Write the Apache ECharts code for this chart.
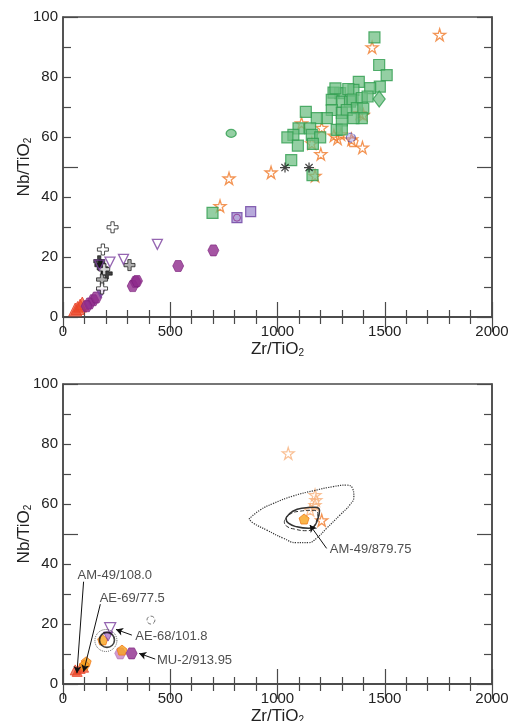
<!DOCTYPE html>
<html>
<head>
<meta charset="utf-8">
<script src="https://cdn.jsdelivr.net/npm/echarts@6/dist/echarts.min.js"></script>
<style>
  html, body { margin: 0; padding: 0; background: #fff; }
  #chart { width: 509px; height: 721px; }
</style>
</head>
<body>
<div id="chart"></div>
<script>
// ---- upper panel data (Zr/TiO2, Nb/TiO2) ----
const greenSquares = [
  [1452, 93.2], [1474, 84], [1509, 80.6], [1477, 76.8], [1379, 78.4], [1432, 76.3],
  [1354, 75.7], [1292, 74.6], [1261, 74.8], [1330, 76], [1270, 76.2], [1253, 72.4],
  [1300, 71.8], [1338, 71.8], [1350, 72.5], [1393, 73], [1420, 73.5], [1253, 69],
  [1300, 68], [1323, 69], [1370, 69.6], [1400, 69.5], [1393, 66.3], [1354, 66.3],
  [1300, 65.5], [1230, 66.3], [1183, 66.3], [1132, 68.4], [1152, 62.9], [1098, 62.9],
  [1074, 60.7], [1046, 59.9], [1095, 57.1], [1160, 60.7], [1199, 59.9], [1165, 57.7],
  [1276, 62.4], [1300, 62.5], [1064, 52.3], [1163, 47.3], [697, 34.7]
];
const greenDiamond = [[1474, 72.7]];
const greenCircle = [[784, 61.2]];
const orangeStars = [
  [1756, 94.1], [1441, 89.9], [1400, 67.4], [1384, 68], [1112, 64.6], [1206, 63.1],
  [1263, 60.5], [1296, 60.9], [1280, 59.5], [1345, 59.2], [1396, 56.5], [1202, 54.3],
  [1160, 57.9], [970, 48.2], [1175, 47.1], [774, 46.2], [732, 37]
];
const blueCircle = [[1342, 59.8]];
const openPentagon = [[1352, 58.5]];
const asterisks = [[1035, 49.8], [1147, 49.8]];
const lavenderSquares = [[875, 35.1], [811, 33.1]];
const lavenderCircle = [[811, 33.1]];
const purpleHex = [[701, 22.2], [537, 17], [338, 11.7], [325, 10.3], [345, 12], [141, 5.6], [124, 4.5], [155, 6.5], [110, 3.6]];
const openTriangles = [[440, 24.2], [282, 19.2], [219, 18.3], [170, 17.3]];
const filledTriangles = [[176, 7.8]];
const blackCrosses = [[169, 18.6], [174, 17.3], [204, 14.5], [185, 16.2]];
const openCrosses = [[231, 29.9], [186, 22.5], [192, 15.9], [182, 9.5]];
const grayCrosses = [[310, 17.3], [182, 12.5]];
const redTriangles = [[57, 2.5], [68, 3], [80, 3.8], [90, 4.5]];

// ---- lower panel data ----
const lightStars = [[1050, 76.9], [1175, 63], [1179, 61.3], [1175, 59.7], [1152, 58]];
const darkStar = [[1206, 54.6]];
const orangePentagons = [[1124, 55], [108, 7.4], [99, 6.3], [185, 14.7], [275, 11.3]];
const redTriangles2 = [[57, 4.7], [80, 5.2], [96, 5.6], [66, 4.2]];
const lightPurpleHex = [[267, 10.2]];
const darkPurpleHex = [[320, 10.2]];
const openTriangles2 = [[220, 18.6]];
const filledTriangles2 = [[210, 15.8]];
const solidRing = [[205, 14.7]];
const dottedRing = [[200, 14.5]];
const dashedCircle = [[410, 21.3]];
const bigDottedLoop = [
  [867, 55], [919, 58], [981, 60.2], [1074, 62.7], [1167, 64.4], [1260, 65.8], [1322, 66.3],
  [1350, 65.2], [1356, 62.4], [1337, 59.7], [1291, 56.3], [1229, 51.9], [1182, 48.6],
  [1144, 47.1], [1089, 47.1], [1027, 48.6], [950, 51.3], [888, 53.6], [867, 55]
];
const solidLoop = [
  [1044, 55.8], [1067, 57.4], [1113, 58.6], [1175, 58.9], [1196, 57.8], [1186, 54.6],
  [1168, 52.4], [1144, 51.9], [1090, 52.4], [1051, 53.6], [1040, 55.2], [1044, 55.8]
];
const dashedLoop = [
  [1036, 54.8], [1058, 56.6], [1104, 57.6], [1166, 57.9], [1188, 56.8], [1178, 53.6],
  [1160, 51.6], [1136, 51.1], [1082, 51.6], [1043, 52.6], [1032, 54.2], [1036, 54.8]
];
const labelNames = ['AM-49/879.75', 'AM-49/108.0', 'AE-69/77.5', 'AE-68/101.8', 'MU-2/913.95'];
const labelPos = [[1244, 44.7], [68, 36.1], [171, 28.4], [337, 15.8], [438, 8]];
const arrowFrom = [[1229, 45.2], [96, 34.1], [174, 26.6], [321, 16.3], [430, 8.3]];
const arrowTo = [[1151, 53], [65, 3.6], [96, 4.1], [247, 18.2], [355, 10.2]];

const FONT = "'Liberation Sans', Arial, sans-serif";
const STAR = 'path://M50,0 L61,35 L98,35 L68,57 L79,91 L50,70 L21,91 L32,57 L2,35 L39,35 Z';
const HEX = 'path://M25,0 L75,0 L100,43 L75,87 L25,87 L0,43 Z';
const PENT = 'path://M50,0 L100,38 L81,95 L19,95 L0,38 Z';
const CROSS = 'path://M35,0 L65,0 L65,35 L100,35 L100,65 L65,65 L65,100 L35,100 L35,65 L0,65 L0,35 L35,35 Z';
const AST = 'path://M0,44 L100,44 L100,56 L0,56 Z M44,0 L56,0 L56,100 L44,100 Z M10,18 L18,10 L90,82 L82,90 Z M82,10 L90,18 L18,90 L10,82 Z';

const axisColor = '#4a4a4a';
const nameRich = { s: { fontSize: 10, fontFamily: FONT, color: '#222', padding: [8, 0, 0, 0] } };

function xAxes(gridIndex) {
  const common = () => ({
    gridIndex, type: 'value', min: 0, max: 2000, interval: 500,
    axisLine: { show: true, lineStyle: { color: axisColor, width: 1.5 } },
    axisTick: { show: true, inside: true, length: 15, lineStyle: { color: axisColor, width: 1.2 } },
    minorTick: { show: true, splitNumber: 5, length: 7, lineStyle: { color: axisColor, width: 1.2 } },
    splitLine: { show: false }
  });
  return [
    Object.assign(common(), {
      position: 'bottom',
      axisLabel: { fontSize: 15, color: '#222', fontFamily: FONT, margin: 7, formatter: v => String(v) },
      name: 'Zr/TiO{s|2}', nameLocation: 'middle', nameGap: 23,
      nameTextStyle: { fontSize: 17, color: '#222', fontFamily: FONT, rich: nameRich }
    }),
    Object.assign(common(), { position: 'top', axisLabel: { show: false } })
  ];
}

function yAxes(gridIndex) {
  const common = () => ({
    gridIndex, type: 'value', min: 0, max: 100, interval: 50,
    axisLine: { show: true, lineStyle: { color: axisColor, width: 1.5 } },
    axisTick: { show: true, inside: true, length: 15, lineStyle: { color: axisColor, width: 1.2 } },
    minorTick: { show: true, splitNumber: 5, length: 8, lineStyle: { color: axisColor, width: 1.2 } },
    splitLine: { show: false },
    axisLabel: { show: false }
  });
  return [
    Object.assign(common(), { position: 'left' }),
    {
      gridIndex, type: 'value', min: 0, max: 100, interval: 20, position: 'left',
      axisLine: { show: false }, axisTick: { show: false }, splitLine: { show: false },
      axisLabel: { fontSize: 15, color: '#222', fontFamily: FONT, margin: 5 },
      name: 'Nb/TiO{s|2}', nameLocation: 'middle', nameGap: 30, nameRotate: 90,
      nameMoveOverlap: false,
      nameTextStyle: { fontSize: 17, color: '#222', fontFamily: FONT, rich: nameRich }
    },
    Object.assign(common(), { position: 'right' })
  ];
}

function sc(name, data, xi, yi, symbol, size, style, extra) {
  return Object.assign({
    name, type: 'scatter', data, xAxisIndex: xi, yAxisIndex: yi,
    symbol, symbolSize: size, itemStyle: style
  }, extra || {});
}

function loop(name, data, type, width) {
  return {
    name, type: 'line', data, xAxisIndex: 2, yAxisIndex: 3, smooth: 0.5,
    showSymbol: false,
    lineStyle: { color: '#333', width, type }
  };
}

const green = { color: 'rgba(110,190,130,0.92)', borderColor: '#2f9e4f', borderWidth: 1.2 };
const orangeOpen = { color: 'rgba(255,255,255,0)', borderColor: '#f07a2a', borderWidth: 1.3 };
const purple = { color: '#8e2a8c', borderColor: '#7a1f7a', borderWidth: 0.8 };
const redTri = { color: 'rgba(236,72,40,0.85)', borderColor: '#e8452a', borderWidth: 1 };
const purpleOpen = { color: 'rgba(255,255,255,0)', borderColor: '#7b3f9e', borderWidth: 1.3 };
const orangeFill = { color: '#f9a21b', borderColor: '#f07a1a', borderWidth: 1 };

const series = [
  // upper panel
  sc('red triangles', redTriangles, 0, 0, 'triangle', 13, redTri),
  sc('purple hexagons', purpleHex, 0, 0, HEX, 11, purple),
  sc('filled triangles', filledTriangles, 0, 0, 'triangle', 9, { color: '#7b3f9e', borderColor: '#7b3f9e' }, { symbolRotate: 180 }),
  sc('black crosses', blackCrosses, 0, 0, CROSS, 11, { color: '#111', borderColor: '#111', borderWidth: 0.8 }),
  sc('gray crosses', grayCrosses, 0, 0, CROSS, 11, { color: '#9a9a9a', borderColor: '#222', borderWidth: 1 }),
  sc('open crosses', openCrosses, 0, 0, CROSS, 11, { color: '#fff', borderColor: '#222', borderWidth: 1 }),
  sc('open triangles', openTriangles, 0, 0, 'triangle', 10, purpleOpen, { symbolRotate: 180 }),
  sc('lavender squares', lavenderSquares, 0, 0, 'rect', 10, { color: '#a593d2', borderColor: '#6b3fa0', borderWidth: 1.2 }),
  sc('lavender circle', lavenderCircle, 0, 0, 'circle', 7, { color: '#b4a6da', borderColor: '#8e2a8c', borderWidth: 1 }),
  sc('orange stars', orangeStars, 0, 0, STAR, 12, orangeOpen),
  sc('green squares', greenSquares, 0, 0, 'rect', 11, green),
  sc('green diamond', greenDiamond, 0, 0, 'diamond', [12, 16], green),
  sc('green circle', greenCircle, 0, 0, 'circle', [10, 8], green),
  sc('open pentagon', openPentagon, 0, 0, PENT, 10, orangeOpen),
  sc('blue circle', blueCircle, 0, 0, 'circle', 9, { color: 'rgba(160,150,220,0.6)', borderColor: '#3a3ab0', borderWidth: 1, borderType: 'dashed' }),
  sc('asterisks', asterisks, 0, 0, AST, 10, { color: '#111' }),

  // lower panel
  loop('big dotted loop', bigDottedLoop, 'dotted', 1.2),
  loop('dashed loop', dashedLoop, 'dashed', 1),
  loop('solid loop', solidLoop, 'solid', 1.5),
  sc('light stars', lightStars, 2, 3, STAR, 12, { color: 'rgba(255,255,255,0)', borderColor: '#f8b07a', borderWidth: 1.2 }),
  sc('dark star', darkStar, 2, 3, STAR, 12, orangeOpen),
  sc('red triangles 2', redTriangles2, 2, 3, 'triangle', 10, redTri),
  sc('light purple hex', lightPurpleHex, 2, 3, HEX, 11, { color: 'rgba(190,110,185,0.85)', borderColor: '#b070b0', borderWidth: 0.8 }),
  sc('orange pentagons', orangePentagons, 2, 3, PENT, 10, orangeFill),
  sc('dark purple hex', darkPurpleHex, 2, 3, HEX, 11, purple),
  sc('filled triangles 2', filledTriangles2, 2, 3, 'triangle', 9, { color: 'rgba(140,60,170,0.7)', borderColor: '#7b3f9e' }, { symbolRotate: 180 }),
  sc('open triangles 2', openTriangles2, 2, 3, 'triangle', 11, purpleOpen, { symbolRotate: 180 }),
  sc('solid ring', solidRing, 2, 3, 'circle', 15, { color: 'rgba(255,255,255,0)', borderColor: '#111', borderWidth: 1.6 }),
  sc('dotted ring', dottedRing, 2, 3, 'circle', 22, { color: 'rgba(255,255,255,0)', borderColor: '#333', borderWidth: 1, borderType: 'dotted' }),
  sc('dashed circle', dashedCircle, 2, 3, 'circle', 8, { color: 'rgba(255,255,255,0)', borderColor: '#555', borderWidth: 1, borderType: 'dashed' }),
  {
    name: 'labels', type: 'scatter', xAxisIndex: 2, yAxisIndex: 3,
    symbolSize: 0,
    data: labelPos.map((p, i) => ({ value: p, name: labelNames[i] })),
    label: {
      show: true, position: 'right', distance: 0, formatter: '{b}',
      fontSize: 13, color: '#222', fontFamily: FONT
    },
    markLine: {
      silent: true, animation: false,
      symbol: ['none', 'arrow'], symbolSize: [6, 7],
      label: { show: false },
      lineStyle: { color: '#111', width: 1, type: 'solid' },
      data: arrowFrom.map((p, i) => [{ coord: p }, { coord: arrowTo[i] }])
    }
  }
];

const chart = echarts.init(document.getElementById('chart'));
chart.setOption({
  animation: false,
  backgroundColor: '#fff',
  grid: [
    { left: 63, top: 17, width: 429, height: 300, outerBoundsMode: 'none', containLabel: false,
      show: true, borderColor: axisColor, borderWidth: 1.5, backgroundColor: 'transparent' },
    { left: 63, top: 384, width: 429, height: 300, outerBoundsMode: 'none', containLabel: false,
      show: true, borderColor: axisColor, borderWidth: 1.5, backgroundColor: 'transparent' }
  ],
  xAxis: xAxes(0).concat(xAxes(1)),
  yAxis: yAxes(0).concat(yAxes(1)),
  series
});
</script>
</body>
</html>
